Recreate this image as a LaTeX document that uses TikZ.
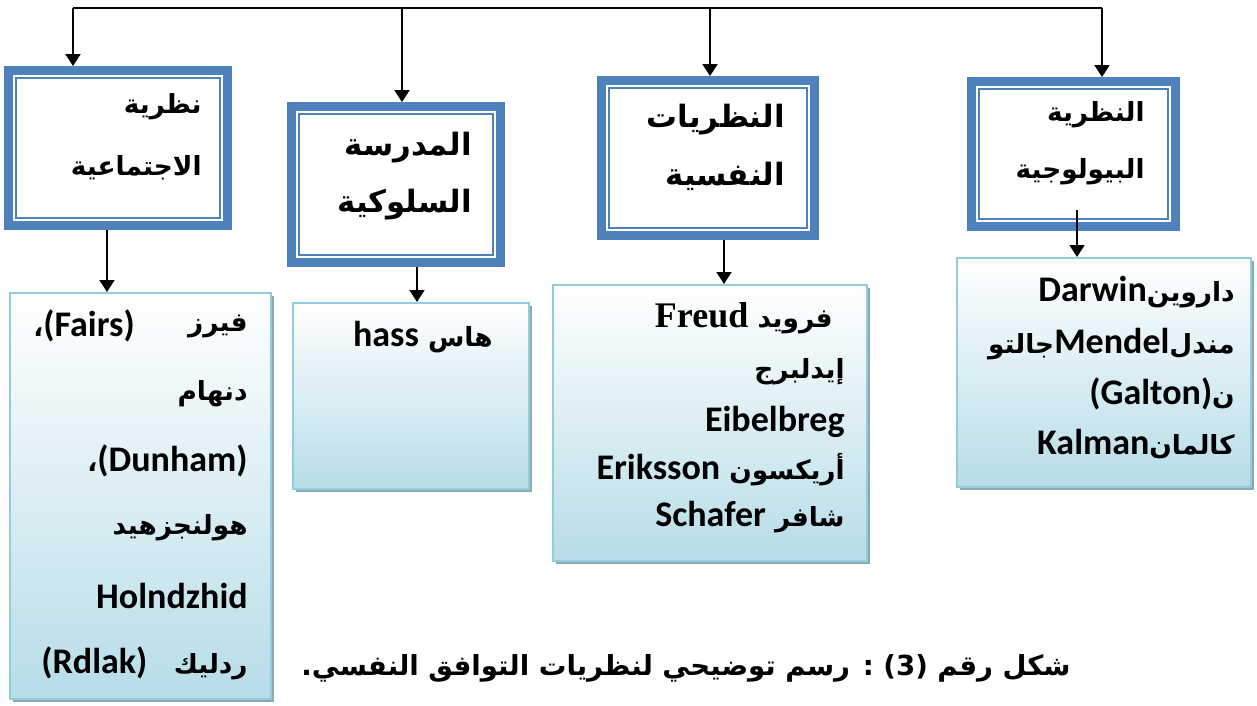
\documentclass[tikz,border=0pt]{standalone}
\usepackage{fontspec}
\usetikzlibrary{arrows.meta,shadows}
\TeXXeTstate=1
\newfontfamily\arfont[Script=Arabic]{DejaVu Sans}
\newfontfamily\latfont{Carlito}
\newfontfamily\serfont{Liberation Serif}
\definecolor{frameblue}{RGB}{79,129,189}
\definecolor{edgeblue}{RGB}{147,205,221}
\definecolor{fillblue}{RGB}{183,221,232}
\definecolor{shadowgray}{RGB}{140,168,178}
\newcommand{\smalltitle}{\arfont\bfseries\fontsize{15}{18}\selectfont}
\newcommand{\bigtitle}{\arfont\bfseries\fontsize{17.5}{21}\selectfont}
\newcommand{\namefont}{\arfont\bfseries\fontsize{15}{18}\selectfont}
\newcommand{\lt}{\latfont\bfseries\fontsize{20.5}{24}\selectfont}
\newcommand{\st}{\serfont\bfseries\fontsize{20.5}{24}\selectfont}

\begin{document}
\begin{tikzpicture}[x=0.02cm, y=-0.02cm,
    titlebox/.style={draw=frameblue, line width=5.1pt, fill=white, inner sep=0pt},
    namebox/.style={draw=edgeblue, line width=1.2pt, top color=white, bottom color=fillblue,
      drop shadow={shadow xshift=1.7pt, shadow yshift=-1.7pt, fill=shadowgray, opacity=1}},
    arr/.style={-{Triangle[length=6.8pt,width=8.5pt]}, line width=1.1pt},
    txt/.style={inner sep=0pt, anchor=east}]
  \useasboundingbox (0,0) rectangle (1257,706);

  % theory boxes
  \node[titlebox, minimum width=4.38cm, minimum height=3.10cm] (soc) at (118,148) {};
  \node[titlebox, minimum width=4.18cm, minimum height=3.12cm] (beh) at (396,184.5) {};
  \node[titlebox, minimum width=4.26cm, minimum height=3.10cm] (psy) at (708,158) {};
  \node[titlebox, minimum width=4.08cm, minimum height=2.90cm] (bio) at (1073.5,154) {};
  \foreach \n in {soc,beh,psy,bio}
    \draw[frameblue, line width=1.1pt] ([shift={(6.8pt,6.8pt)}]\n.south west) rectangle ([shift={(-6.8pt,-6.8pt)}]\n.north east);

  % name boxes
  \node[namebox, minimum width=5.22cm, minimum height=8.12cm] (socL) at (140.5,496) {};
  \node[namebox, minimum width=4.72cm, minimum height=3.72cm] (behL) at (411,396) {};
  \node[namebox, minimum width=6.28cm, minimum height=5.52cm] (psyL) at (710,423) {};
  \node[namebox, minimum width=5.88cm, minimum height=4.58cm] (bioL) at (1104,372.5) {};

  % connectors
  \coordinate (t1) at (73,8);
  \coordinate (t2) at (402,8);
  \coordinate (t3) at (710,8);
  \coordinate (t4) at (1102,8);
  \draw[line width=1.1pt] (t1) -- (t4);
  \foreach \t/\b in {t1/soc, t2/beh, t3/psy, t4/bio}
    \draw[arr] (\t) -- (\t |- \b.north);
  \coordinate (k1) at (107,0);
  \coordinate (k2) at (417,0);
  \coordinate (k3) at (724,0);
  \coordinate (k4) at (1077,0);
  \foreach \k/\a/\b/\s in {k1/soc/socL/0, k2/beh/behL/0, k3/psy/psyL/0, k4/bio/bioL/11.9}
    \draw[arr, shorten <=-\s pt] (\a.south -| \k) -- (\b.north -| \k);

  % titles
  \node[txt, font=\smalltitle] (soc1) at (202,107) {\beginR نظرية\endR};
  \node[txt, font=\smalltitle] (soc2) at (202,168) {\beginR الاجتماعية\endR};
  \node[txt, font=\bigtitle] (beh1) at (472,148) {\beginR المدرسة\endR};
  \node[txt, font=\bigtitle] (beh2) at (472,205) {\beginR السلوكية\endR};
  \node[txt, font=\bigtitle] (psy1) at (785,120) {\beginR النظريات\endR};
  \node[txt, font=\bigtitle] (psy2) at (785,176) {\beginR النفسية\endR};
  \node[txt, font=\smalltitle] (bio1) at (1145,115) {\beginR النظرية\endR};
  \node[txt, font=\smalltitle] (bio2) at (1145,172) {\beginR البيولوجية\endR};

  % names
  \node[txt, font=\namefont] (fa) at (248,326) {\beginR فيرز\endR};
  \node[txt, font=\namefont, anchor=west] (fb) at (33,326) {\beginR،\endR{\lt(Fairs)}};
  \node[txt, font=\namefont] (du) at (248,394) {\beginR دنهام\endR};
  \node[txt, font=\namefont] (db) at (248,461) {\beginR،\endR{\lt(Dunham)}};
  \node[txt, font=\namefont] (ho) at (248,528) {\beginR هولنجزهيد\endR};
  \node[txt, font=\lt] (hb) at (248,596) {Holndzhid};
  \node[txt, font=\namefont] (rd) at (248,663) {\beginR ردليك\quad\beginL{\lt(Rdlak)}\endL\endR};

  \node[txt, font=\namefont] (ha) at (493,337) {\beginR هاس \beginL{\lt hass}\endL\endR};

  \node[txt, font=\namefont] (fr) at (833,318) {\beginR فرويد \beginL{\st Freud}\endL\endR};
  \node[txt, font=\namefont] (ei) at (845,372) {\beginR إيدلبرج\endR};
  \node[txt, font=\lt] (eb) at (845,422) {Eibelbreg};
  \node[txt, font=\namefont] (er) at (845,470) {\beginR أريكسون \beginL{\lt Eriksson}\endL\endR};
  \node[txt, font=\namefont] (sc) at (845,517) {\beginR شافر \beginL{\lt Schafer}\endL\endR};

  \node[txt, font=\namefont] (da) at (1235,292) {\beginR داروين\beginL{\lt Darwin}\endL\endR};
  \node[txt, font=\namefont] (me) at (1235,344) {\beginR مندل\beginL{\lt Mendel}\endL جالتو\endR};
  \node[txt, font=\namefont] (ga) at (1235,394) {\beginR ن\beginL{\lt(Galton)}\endL\endR};
  \node[txt, font=\namefont] (ka) at (1235,444) {\beginR كالمان\beginL{\lt Kalman}\endL\endR};

  % caption
  \node[inner sep=0pt, font=\arfont\bfseries\fontsize{15.7}{19}\selectfont] (cap) at (686,668)
    {\beginR شكل رقم \beginL(3)\endL{} : رسم توضيحي لنظريات التوافق النفسي.\endR};
\end{tikzpicture}
\end{document}
